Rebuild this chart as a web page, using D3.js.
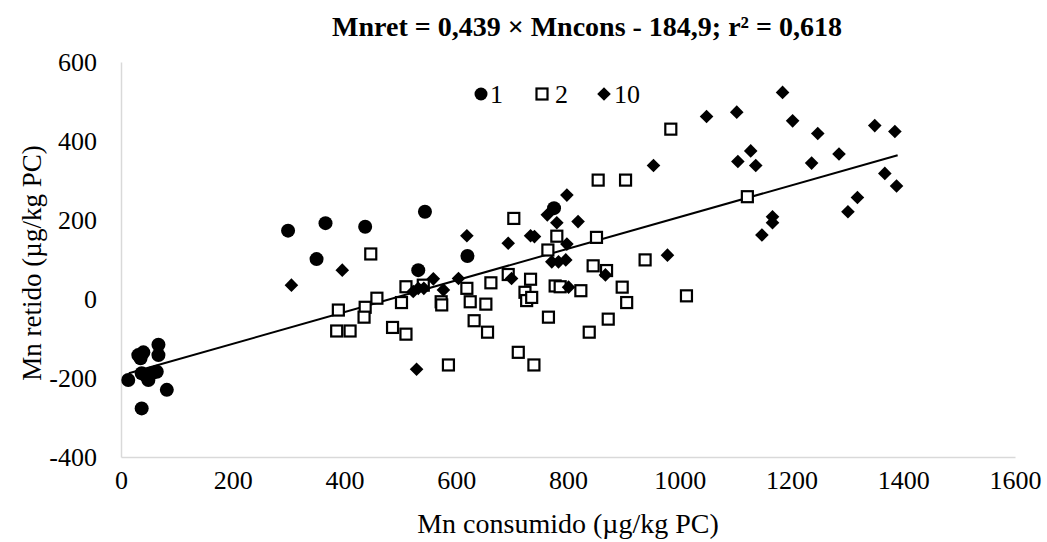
<!DOCTYPE html>
<html>
<head>
<meta charset="utf-8">
<script src="https://cdn.jsdelivr.net/npm/d3@7"></script>
<style>
  html, body { margin: 0; padding: 0; background: #fff; }
  svg { display: block; }
  text { font-family: "Liberation Serif", "Times New Roman", serif; fill: #000; }
</style>
</head>
<body>
<svg id="chart" width="1047" height="542"></svg>
<script>
// ---- data ----
const titleText = "Mnret = 0,439 × Mncons - 184,9; r² = 0,618";
const xLabel = "Mn consumido (µg/kg PC)";
const yLabel = "Mn retido (µg/kg PC)";
const legendNames = ["1", "2", "10"];

const xTicks = [0, 200, 400, 600, 800, 1000, 1200, 1400, 1600];
const yTicks = [-400, -200, 0, 200, 400, 600];

const s1X = [31, 40, 35, 13, 37, 45, 49, 55, 64, 67, 67, 82, 37, 299, 366, 437, 350, 544, 532, 620, 775];
const s1Y = [-142, -135, -150, -205, -188, -195, -205, -188, -184, -116, -142, -230, -277, 173, 192, 183, 101, 221, 73, 109, 230];

const s2X = [447, 389, 386, 410, 437, 435, 458, 486, 510, 502, 510, 541, 573, 574, 586, 703, 619, 625, 653, 662, 632, 656, 711, 739, 693, 733, 723, 726, 735, 764, 780, 777, 786, 823, 765, 845, 869, 851, 872, 838, 897, 905, 854, 903, 938, 1012, 1121, 984];
const s2Y = [114, -28, -81, -81, -21, -46, 2, -72, -89, -9, 31, 35, -7, -15, -167, 204, 27, -7, -13, 41, -55, -84, -135, -167, 62, 50, 17, -4, 4, 124, 159, 33, 31, 21, -46, 84, 72, 156, -51, -84, 30, -9, 301, 301, 99, 8, 259, 430];

const s10X = [305, 396, 529, 523, 532, 542, 559, 577, 604, 619, 693, 733, 740, 798, 763, 780, 818, 798, 771, 783, 796, 699, 801, 867, 978, 1147, 1166, 1166, 953, 1048, 1102, 1184, 1202, 1247, 1349, 1385, 1127, 1104, 1136, 1236, 1285, 1367, 1388, 1318, 1301];
const s10Y = [35, 73, -178, 19, 27, 27, 51, 23, 52, 160, 141, 160, 158, 263, 213, 193, 196, 139, 94, 94, 99, 52, 30, 61, 111, 162, 193, 208, 338, 462, 473, 523, 451, 419, 439, 424, 375, 348, 338, 344, 367, 318, 286, 257, 221];

const trendX = [14, 1390];
const trendY = [-188, 364];

// ---- layout ----
const svg = d3.select("#chart");
const W = 1047, H = 542;
svg.append("rect").attr("width", W).attr("height", H).attr("fill", "#fff");

const x = d3.scaleLinear().domain([0, 1600]).range([121, 1015]);
const y = d3.scaleLinear().domain([-400, 600]).range([457, 62]);

// axes
const xAxis = d3.axisBottom(x).tickValues(xTicks).tickSize(0).tickPadding(14).tickFormat(d => String(d));
const yAxis = d3.axisLeft(y).tickValues(yTicks).tickSize(0).tickPadding(24).tickFormat(d => String(d));

const gx = svg.append("g").attr("transform", `translate(0,${y(-400)})`).call(xAxis);
const gy = svg.append("g").attr("transform", `translate(${x(0)},0)`).call(yAxis);
[gx, gy].forEach(g => {
  g.select(".domain").attr("stroke", "#d9d9d9").attr("stroke-width", 1.5);
  g.selectAll("text").style("font-family", '"Liberation Serif", serif').style("font-size", "26px").attr("fill", "#000");
});

// trend line
svg.append("line")
  .attr("x1", x(trendX[0])).attr("y1", y(trendY[0]))
  .attr("x2", x(trendX[1])).attr("y2", y(trendY[1]))
  .attr("stroke", "#000").attr("stroke-width", 2);

// series 2 squares
const sq = 11;
svg.append("g").selectAll("rect").data(d3.range(s2X.length)).join("rect")
  .attr("x", i => x(s2X[i]) - sq / 2).attr("y", i => y(s2Y[i]) - sq / 2)
  .attr("width", sq).attr("height", sq)
  .attr("fill", "#fff").attr("stroke", "#000").attr("stroke-width", 2.2);

// series 10 diamonds
const dm = 6.8;
const diamondPath = `M0,${-dm}L${dm},0L0,${dm}L${-dm},0Z`;
svg.append("g").selectAll("path").data(d3.range(s10X.length)).join("path")
  .attr("transform", i => `translate(${x(s10X[i])},${y(s10Y[i])})`)
  .attr("d", diamondPath).attr("fill", "#000");

// series 1 circles
svg.append("g").selectAll("circle").data(d3.range(s1X.length)).join("circle")
  .attr("cx", i => x(s1X[i])).attr("cy", i => y(s1Y[i])).attr("r", 7)
  .attr("fill", "#000");

// title
svg.append("text").attr("x", 587).attr("y", 36).attr("text-anchor", "middle")
  .style("font-size", "28px").style("font-weight", "bold").text(titleText);

// axis titles
svg.append("text").attr("x", 568).attr("y", 533).attr("text-anchor", "middle")
  .style("font-size", "28px").text(xLabel);
svg.append("text").attr("transform", "translate(41,263) rotate(-90)").attr("text-anchor", "middle")
  .style("font-size", "27px").text(yLabel);

// legend
const legY = 94;
const lg = svg.append("g");
lg.append("circle").attr("cx", 481).attr("cy", legY).attr("r", 6.5).attr("fill", "#000");
lg.append("text").attr("x", 490).attr("y", legY + 9).style("font-size", "26px").text(legendNames[0]);
lg.append("rect").attr("x", 542 - 5.5).attr("y", legY - 5.5).attr("width", 11).attr("height", 11)
  .attr("fill", "#fff").attr("stroke", "#000").attr("stroke-width", 2.2);
lg.append("text").attr("x", 555).attr("y", legY + 9).style("font-size", "26px").text(legendNames[1]);
lg.append("path").attr("transform", `translate(604,${legY})`).attr("d", diamondPath).attr("fill", "#000");
lg.append("text").attr("x", 614).attr("y", legY + 9).style("font-size", "26px").text(legendNames[2]);
</script>
</body>
</html>
